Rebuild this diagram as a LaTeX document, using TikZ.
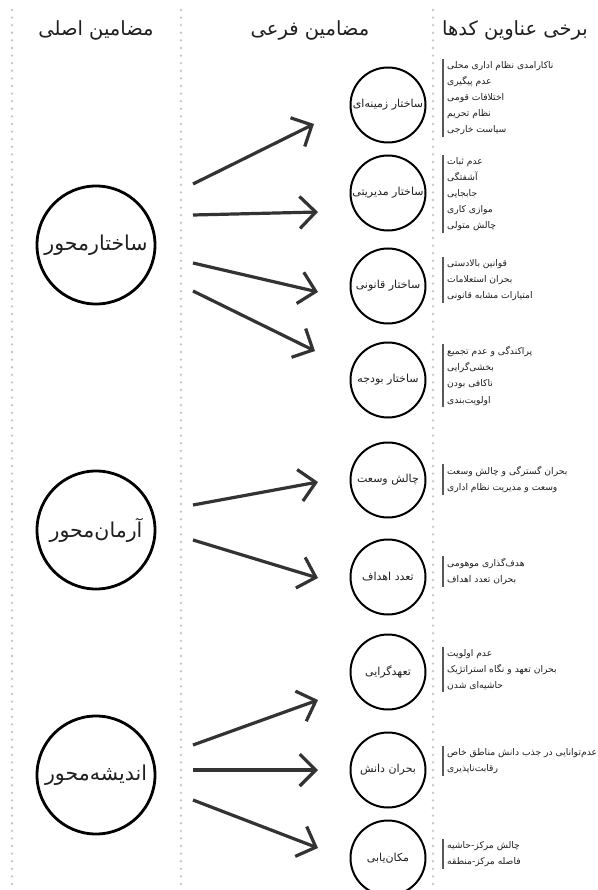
\documentclass[tikz,border=0pt]{standalone}
\usepackage{fontspec}
\newfontfamily\fa[Script=Arabic]{DejaVu Sans}
\TeXXeTstate=1
\usetikzlibrary{arrows.meta}
\newcommand{\RL}[1]{\beginR #1\endR}
\begin{document}
\begin{tikzpicture}[x=1pt,y=-1pt,
  sep/.style={gray!45, line width=2.6pt, line cap=round, dash pattern=on 0pt off 7.6pt},
  head/.style={font=\fa\fontsize{19.5}{22}\selectfont, text=black!88, inner sep=0pt},
  mainc/.style={circle, draw, line width=2.8pt, minimum size=118pt, inner sep=0pt, font=\fa\fontsize{20.5}{22}\selectfont, text=black!88},
  subc/.style={circle, draw, line width=2pt, minimum size=75pt, inner sep=0pt, font=\fa\fontsize{11}{13}\selectfont, text=black!88},
  arr/.style={-{Straight Barb[length=16pt,width=32pt,line width=3.2pt]}, line width=3.2pt, black!80},
  codes/.style={anchor=north west, align=left, inner sep=0pt, font=\fa\fontsize{9.2}{16.2}\selectfont, text=black!88},
  bar/.style={black!65, line width=2.6pt}]
\useasboundingbox (0,0) rectangle (597,890);
\fill[white] (0,0) rectangle (597,890);
% separators
\draw[sep] (12,10) -- (12,890);
\draw[sep] (181,10) -- (181,890);
\draw[sep] (433,10) -- (433,890);
% headers
\node[head] (h1) at (96,30) {\RL{مضامین اصلی}};
\node[head] (h2) at (310,30) {\RL{مضامین فرعی}};
\node[head] (h3) at (515,30) {\RL{برخی عناوین کدها}};
% main circles
\node[mainc] (m1) at (96,245) {\RL{ساختارمحور}};
\node[mainc] (m2) at (96,530) {\RL{آرمان‌محور}};
\node[mainc] (m3) at (96,775) {\RL{اندیشه‌محور}};
% sub circles
\node[subc] (s1) at (388,105) {\RL{ساختار زمینه‌ای}};
\node[subc] (s2) at (388,193) {\RL{ساختار مدیریتی}};
\node[subc] (s3) at (388,286) {\RL{ساختار قانونی}};
\node[subc] (s4) at (388,380) {\RL{ساختار بودجه}};
\node[subc] (s5) at (388,480) {\RL{چالش وسعت}};
\node[subc] (s6) at (388,577) {\RL{تعدد اهداف}};
\node[subc] (s7) at (388,672) {\RL{تعهدگرایی}};
\node[subc] (s8) at (388,770) {\RL{بحران دانش}};
\node[subc] (s9) at (388,858) {\RL{مکان‌یابی}};
% arrow ends
\coordinate (a1s) at (193,184); \coordinate (a1e) at (314,124);
\coordinate (a2s) at (193,215); \coordinate (a2e) at (318,212);
\coordinate (a3s) at (193,263); \coordinate (a3e) at (318,292);
\coordinate (a4s) at (193,291); \coordinate (a4e) at (315,351);
\coordinate (b1s) at (193,505); \coordinate (b1e) at (318,482);
\coordinate (b2s) at (193,540); \coordinate (b2e) at (318,578);
\coordinate (c1s) at (193,745); \coordinate (c1e) at (318,700);
\coordinate (c2s) at (193,770); \coordinate (c2e) at (318,770);
\coordinate (c3s) at (193,800); \coordinate (c3e) at (318,848);
\foreach \p in {a1,a2,a3,a4,b1,b2,c1,c2,c3} \draw[arr] (\p s) -- (\p e);
% code lists
\node[codes] (k1) at (447,61) {\RL{ناکارامدی نظام اداری محلی}\\\RL{عدم پیگیری}\\\RL{اختلافات قومی}\\\RL{نظام تحریم}\\\RL{سیاست خارجی}};
\node[codes] (k2) at (447,157) {\RL{عدم ثبات}\\\RL{آشفتگی}\\\RL{جابجایی}\\\RL{موازی کاری}\\\RL{چالش متولی}};
\node[codes] (k3) at (447,259) {\RL{قوانین بالادستی}\\\RL{بحران استعلامات}\\\RL{امتیازات مشابه قانونی}};
\node[codes] (k4) at (447,346) {\RL{پراکندگی و عدم تجمیع}\\\RL{بخشی‌گرایی}\\\RL{ناکافی بودن}\\\RL{اولویت‌بندی}};
\node[codes] (k5) at (447,466) {\RL{بحران گسترگی و چالش وسعت}\\\RL{وسعت و مدیریت نظام اداری}};
\node[codes] (k6) at (447,558) {\RL{هدف‌گذاری موهومی}\\\RL{بحران تعدد اهداف}};
\node[codes] (k7) at (447,649) {\RL{عدم اولویت}\\\RL{بحران تعهد و نگاه استراتژیک}\\\RL{حاشیه‌ای شدن}};
\node[codes] (k8) at (447,748) {\RL{عدم‌توانایی در جذب دانش مناطق خاص}\\\RL{رقابت‌ناپذیری}};
\node[codes] (k9) at (447,841) {\RL{چالش مرکز-حاشیه}\\\RL{فاصله مرکز-منطقه}};
\foreach \k in {k1,k2,k3,k4,k5,k6,k7,k8,k9}
  \draw[bar] ([xshift=-4pt,yshift=2pt]\k.north west) -- ([xshift=-4pt,yshift=-2pt]\k.south west);
\end{tikzpicture}
\end{document}
